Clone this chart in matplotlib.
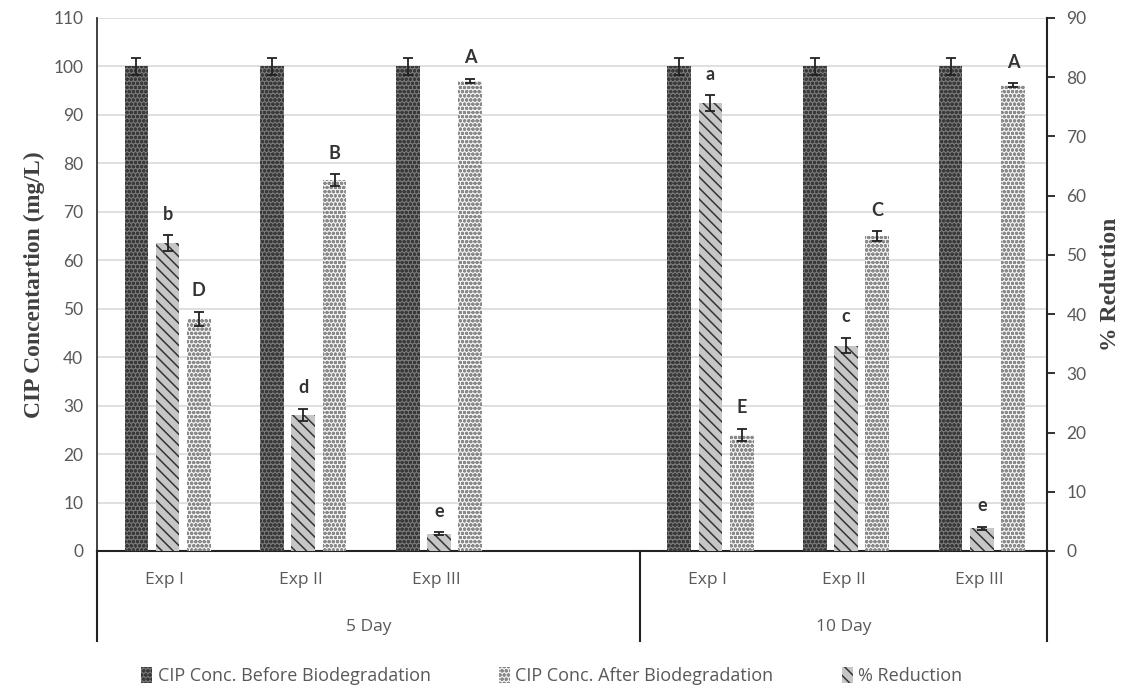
import matplotlib
matplotlib.use("Agg")
import matplotlib.pyplot as plt
import matplotlib.transforms as mtransforms
from matplotlib.patches import Patch
import numpy as np

plt.rcParams['hatch.linewidth'] = 1.1

# ---- data ----
exp_labels = ["Exp I", "Exp II", "Exp III", "Exp I", "Exp II", "Exp III"]
group_labels = ["5 Day", "10 Day"]
slots = [0, 1, 2, 4, 5, 6]          # slot 3 is the empty one in the 5 Day group

before = [100, 100, 100, 100, 100, 100]
before_err = [1.8, 1.8, 1.8, 1.8, 1.8, 1.8]
after = [63.6, 28.1, 3.6, 92.5, 42.4, 4.7]
after_err = [1.6, 1.3, 0.3, 1.6, 1.6, 0.3]
after_letters = ["b", "d", "e", "a", "c", "e"]
reduction = [39.2, 62.6, 79.4, 19.6, 53.2, 78.7]
reduction_err = [1.2, 1.0, 0.3, 1.0, 0.8, 0.3]
reduction_letters = ["D", "B", "A", "E", "C", "A"]

left_ticks = list(range(0, 111, 10))
right_ticks = list(range(0, 91, 10))

# ---- style ----
c_before_face, c_before_hatch = "#7a7a7a", "#3a3a3a"
c_after_face, c_after_hatch = "#c6c6c6", "#333333"
c_red_face, c_red_hatch = "#f4f4f4", "#8a8a8a"
tick_color = "#595959"
sans = "Lato"
legend_font = "Open Sans"
serif = "Liberation Serif"

fig = plt.figure(figsize=(11.31, 6.89), dpi=100)
ax = fig.add_axes([0.0858, 0.2003, 0.8399, 0.7736])
ax2 = ax.twinx()

w = 0.175
gap = 0.055
x = np.array(slots, dtype=float) + 0.02
xb = x - (w + gap)
xa = x
xr = x + (w + gap)

ekw = dict(ecolor="#222222", elinewidth=1.3, capsize=3.5, capthick=1.3)

ax.bar(xb, before, width=w, facecolor=c_before_face, edgecolor=c_before_hatch,
       hatch="oooo", linewidth=0, zorder=3)
ax.errorbar(xb, before, yerr=before_err, fmt="none", zorder=5, **ekw)
ax.bar(xa, after, width=w, facecolor=c_after_face, edgecolor=c_after_hatch,
       hatch="\\\\\\", linewidth=0, zorder=3)
ax.errorbar(xa, after, yerr=after_err, fmt="none", zorder=5, **ekw)
for xi, v, e, t in zip(xa, after, after_err, after_letters):
    ax.annotate(t, (xi, v + e), xytext=(0, 9), textcoords="offset points",
                ha="center", va="bottom", fontsize=13, fontweight="bold",
                color="#333333", family=sans)

ax2.bar(xr, reduction, width=w, facecolor=c_red_face, edgecolor=c_red_hatch,
        hatch="oooo", linewidth=0, zorder=3)
ax2.errorbar(xr, reduction, yerr=reduction_err, fmt="none", zorder=5, **ekw)
for xi, v, e, t in zip(xr, reduction, reduction_err, reduction_letters):
    ax2.annotate(t, (xi, v + e), xytext=(0, 9), textcoords="offset points",
                 ha="center", va="bottom", fontsize=13, fontweight="bold",
                 color="#333333", family=sans)

# axes ranges
ax.set_xlim(-0.5, 6.5)
ax.set_ylim(0, 110)
ax2.set_ylim(0, 90)
ax.set_yticks(left_ticks)
ax2.set_yticks(right_ticks)
ax.yaxis.grid(True, color="#d9d9d9", linewidth=1.2, zorder=0)
ax.set_axisbelow(True)

for a in (ax, ax2):
    a.spines["top"].set_visible(False)
ax.spines["right"].set_visible(False)
ax2.spines["left"].set_visible(False)
ax2.spines["bottom"].set_visible(False)
ax.spines["left"].set_color("#333333")
ax.spines["left"].set_linewidth(1.3)
ax.spines["bottom"].set_color("#222222")
ax.spines["bottom"].set_linewidth(1.5)
ax2.spines["right"].set_color("#222222")
ax2.spines["right"].set_linewidth(1.5)

ax.tick_params(axis="y", length=0, labelsize=12.5, labelcolor=tick_color, pad=10)
ax2.tick_params(axis="y", length=6, width=1.3, color="#222222", direction="out",
                labelsize=12.5, labelcolor=tick_color, pad=8)
for lab in ax.get_yticklabels() + ax2.get_yticklabels():
    lab.set_family(sans)

ax.set_xticks(np.array(slots, dtype=float))
ax.set_xticklabels(exp_labels, fontsize=12.5, color=tick_color, family=legend_font)
ax.tick_params(axis="x", length=0, pad=15)

ax.set_ylabel("CIP Concentartion (mg/L)", fontsize=17, fontweight="bold",
              family=serif, color="#404040", labelpad=6)
ax2.set_ylabel("% Reduction", fontsize=17, fontweight="bold",
               family=serif, color="#404040", labelpad=10)

# group separators and group labels
trans = mtransforms.blended_transform_factory(ax.transData, ax.transAxes)
for xs in (-0.5, 3.5, 6.5):
    ax.plot([xs, xs], [0, -0.168], transform=trans, color="#222222",
            linewidth=1.5, clip_on=False)
ax.text(1.5, -0.142, group_labels[0], transform=trans, ha="center", va="center",
        fontsize=12.5, color=tick_color, family=legend_font)
ax.text(5.0, -0.142, group_labels[1], transform=trans, ha="center", va="center",
        fontsize=12.5, color=tick_color, family=legend_font)

handles = [
    Patch(facecolor=c_before_face, edgecolor=c_before_hatch, hatch="oooo", linewidth=0),
    Patch(facecolor=c_red_face, edgecolor=c_red_hatch, hatch="oooo", linewidth=0),
    Patch(facecolor=c_after_face, edgecolor=c_after_hatch, hatch="\\\\\\", linewidth=0),
]
labels = ["CIP Conc. Before Biodegradation", "CIP Conc. After Biodegradation", "% Reduction"]
leg = fig.legend(handles, labels, loc="center", bbox_to_anchor=(0.488, 0.019),
                 ncol=3, frameon=False, handlelength=0.6,
                 handleheight=1.0, handletextpad=0.3, columnspacing=3.8,
                 prop={"family": legend_font, "size": 13})
for t in leg.get_texts():
    t.set_color(tick_color)

fig.savefig("out.png", dpi=100)
